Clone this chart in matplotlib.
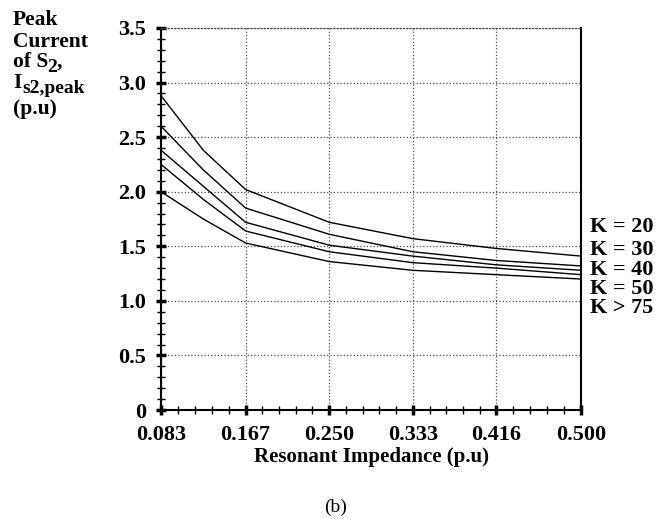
import numpy as np
import matplotlib
matplotlib.use('Agg')
import matplotlib.pyplot as plt
from matplotlib.ticker import FixedLocator, FixedFormatter

plt.rcParams['font.family'] = 'Liberation Serif'
plt.rcParams['font.weight'] = 'bold'
plt.rcParams['axes.labelweight'] = 'bold'

# Data
impedance = [0.083, 0.125, 0.167, 0.250, 0.333, 0.416, 0.500]
k20 = [2.88, 2.38, 2.02, 1.72, 1.57, 1.48, 1.41]
k30 = [2.60, 2.20, 1.85, 1.61, 1.45, 1.37, 1.32]
k40 = [2.38, 2.05, 1.72, 1.51, 1.41, 1.33, 1.28]
k50 = [2.25, 1.93, 1.64, 1.45, 1.35, 1.30, 1.24]
k75 = [2.00, 1.75, 1.53, 1.36, 1.28, 1.24, 1.20]
series_labels = ['K = 20', 'K = 30', 'K = 40', 'K = 50', 'K > 75']

x_ticks = [0.083, 0.167, 0.250, 0.333, 0.416, 0.500]
x_ticklabels = ['0.083', '0.167', '0.250', '0.333', '0.416', '0.500']
y_ticks = [0, 0.5, 1.0, 1.5, 2.0, 2.5, 3.0, 3.5]
y_ticklabels = ['0', '0.5', '1.0', '1.5', '2.0', '2.5', '3.0', '3.5']

W, H = 668, 519
fig = plt.figure(figsize=(W / 100, H / 100), dpi=100)
ax = fig.add_axes([161 / W, 1 - 410 / H, (581 - 161) / W, (410 - 28) / H])

all_series = [k20, k30, k40, k50, k75]
for s in all_series:
    ax.plot(impedance, s, color='black', lw=1.0)

ax.set_xlim(0.083, 0.500)
ax.set_ylim(0, 3.5)

# ticks
ax.xaxis.set_major_locator(FixedLocator(x_ticks))
ax.xaxis.set_major_formatter(FixedFormatter(x_ticklabels))
ax.yaxis.set_major_locator(FixedLocator(y_ticks))
ax.yaxis.set_major_formatter(FixedFormatter(y_ticklabels))
x_minor = np.concatenate([np.linspace(a, b, 6)[1:-1] for a, b in zip(x_ticks[:-1], x_ticks[1:])])
y_minor = np.concatenate([np.linspace(a, b, 6)[1:-1] for a, b in zip(y_ticks[:-1], y_ticks[1:])])
ax.xaxis.set_minor_locator(FixedLocator(x_minor))
ax.yaxis.set_minor_locator(FixedLocator(y_minor))

ax.tick_params(which='major', direction='inout', length=7, width=2.5, labelsize=16, color='black')
ax.tick_params(which='minor', direction='inout', length=6, width=1.0, color='black')
ax.tick_params(axis='y', which='major', pad=7)
ax.tick_params(axis='x', which='major', pad=7)
ax.tick_params(top=False, right=False, which='both')

ax.grid(True, which='major', linestyle=':', color='0.3', lw=0.9)

for side in ['left', 'bottom', 'right']:
    ax.spines[side].set_color('black')
    ax.spines[side].set_linewidth(1.5)
ax.spines['top'].set_linestyle(':')
ax.spines['top'].set_color('0.3')
ax.spines['top'].set_linewidth(0.9)

ax.set_xlabel('Resonant Impedance (p.u)', fontsize=15, fontweight='bold', labelpad=2)

# y-axis title, stacked at the top left (main text + lowered subscript)
renderer = fig.canvas.get_renderer()
ylab_lines = [('Peak', ''), ('Current', ''), ('of S', '2'), ('I', 's2,peak'), ('(p.u)', '')]
ylab_tail = ['', '', ',', '', '']
sub_shift = [0, 0, -1.5, 1.0, 0]
ylab_base = [25, 47, 67, 88, 114]
for (main, sub), tail, dx, yb in zip(ylab_lines, ylab_tail, sub_shift, ylab_base):
    t = fig.text(13 / W, 1 - yb / H, main, fontsize=15.5, ha='left', va='baseline')
    if sub:
        x_end = t.get_window_extent(renderer).x1
        s = fig.text((x_end + dx) / W, 1 - (yb + 5) / H, sub, fontsize=14, ha='left', va='baseline')
        if tail:
            x2 = s.get_window_extent(renderer).x1
            fig.text(x2 / W, 1 - yb / H, tail, fontsize=15.5, ha='left', va='baseline')

# series labels on the right
k_y = [227, 250, 270, 289, 308]
for txt, yc in zip(series_labels, k_y):
    fig.text(590 / W, 1 - yc / H, txt, fontsize=16, ha='left', va='center')

fig.text(336 / W, 1 - 507 / H, '(b)', fontsize=14, fontweight='normal', ha='center', va='center')

fig.savefig('out.png', dpi=100)
